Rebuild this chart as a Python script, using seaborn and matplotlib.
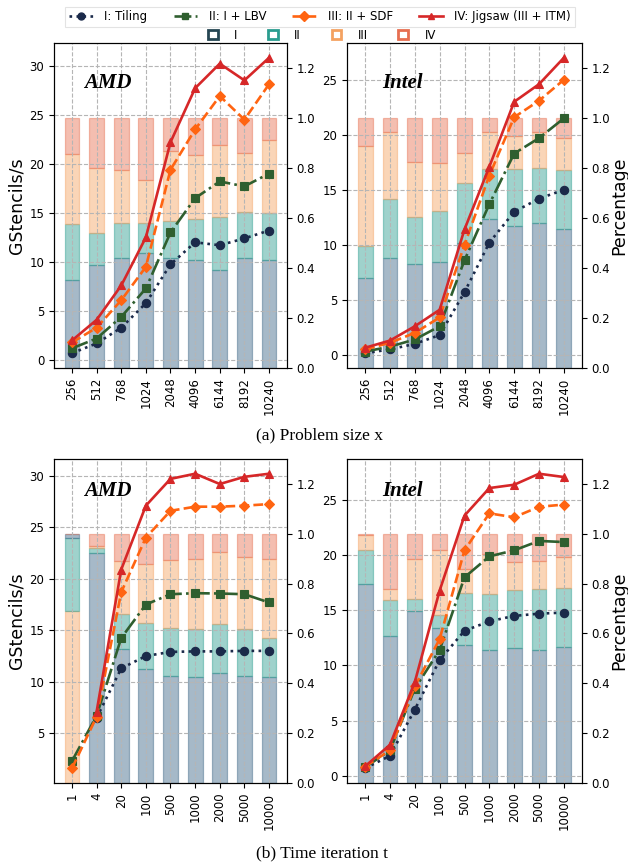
import numpy as np
import pandas as pd
import matplotlib
matplotlib.use("Agg")
import matplotlib.pyplot as plt
import seaborn as sns
from matplotlib.patches import Patch
from matplotlib.lines import Line2D

nan = np.nan

# ---------------- categories ----------------
sizes = ["256", "512", "768", "1024", "2048", "4096", "6144", "8192", "10240"]
iters = ["1", "4", "20", "100", "500", "1000", "2000", "5000", "10000"]

series_names = ["I: Tiling", "II: I + LBV", "III: II + SDF", "IV: Jigsaw (III + ITM)"]
stage_names = ["I", "II", "III", "IV"]

# ---------------- (a) problem size, AMD ----------------
amd_x_tiling = [0.7, 1.7, 3.3, 5.8, 9.75, 12.0, 11.7, 12.4, 13.2]
amd_x_lbv = [1.2, 2.2, 4.4, 7.3, 13.0, 16.5, 18.2, 17.7, 19.0]
amd_x_sdf = [1.8, 3.3, 6.1, 9.5, 19.4, 23.5, 26.9, 24.5, 28.1]
amd_x_jig = [2.0, 4.1, 7.6, 12.5, 22.2, 27.7, 30.2, 28.5, 30.8]
amd_x_p1 = [0.354, 0.413, 0.441, 0.459, 0.441, 0.434, 0.392, 0.439, 0.432]
amd_x_p2 = [0.224, 0.126, 0.139, 0.123, 0.147, 0.161, 0.212, 0.185, 0.187]
amd_x_p3 = [0.278, 0.263, 0.213, 0.171, 0.281, 0.257, 0.288, 0.236, 0.294]
amd_x_p4 = [0.144, 0.198, 0.207, 0.247, 0.131, 0.148, 0.108, 0.140, 0.087]

# ---------------- (a) problem size, Intel ----------------
intel_x_tiling = [0.15, 0.5, 1.0, 1.8, 5.7, 10.2, 13.0, 14.2, 15.0]
intel_x_lbv = [0.3, 0.75, 1.4, 2.6, 8.6, 13.7, 18.3, 19.7, 21.5]
intel_x_sdf = [0.5, 1.1, 2.0, 3.4, 10.0, 16.3, 21.6, 23.1, 25.0]
intel_x_jig = [0.65, 1.3, 2.6, 4.1, 11.4, 17.1, 23.0, 24.6, 27.0]
intel_x_p1 = [0.361, 0.441, 0.417, 0.425, 0.499, 0.595, 0.568, 0.579, 0.555]
intel_x_p2 = [0.127, 0.234, 0.187, 0.203, 0.243, 0.203, 0.230, 0.223, 0.238]
intel_x_p3 = [0.401, 0.268, 0.221, 0.194, 0.118, 0.147, 0.132, 0.143, 0.129]
intel_x_p4 = [0.111, 0.057, 0.175, 0.178, 0.140, 0.055, 0.070, 0.055, 0.078]

# ---------------- (b) time iteration, AMD ----------------
amd_t_tiling = [nan, 6.5, 11.3, 12.5, 12.9, 12.95, 12.95, 13.0, 13.0]
amd_t_lbv = [2.3, 6.7, 14.25, 17.5, 18.5, 18.6, 18.57, 18.5, 17.7]
amd_t_sdf = [1.6, 6.6, 18.7, 24.0, 26.6, 27.0, 27.0, 27.1, 27.25]
amd_t_jig = [nan, 7.1, 20.9, 27.1, 29.7, 30.2, 29.2, 29.9, 30.2]
amd_t_p1 = [0.015, 0.921, 0.538, 0.458, 0.430, 0.427, 0.441, 0.431, 0.427]
amd_t_p2 = [0.295, 0.020, 0.142, 0.184, 0.190, 0.189, 0.195, 0.185, 0.155]
amd_t_p3 = [0.690, 0.008, 0.211, 0.238, 0.275, 0.282, 0.289, 0.291, 0.316]
amd_t_p4 = [0.000, 0.051, 0.109, 0.120, 0.105, 0.102, 0.075, 0.093, 0.102]
# stacking order (bottom -> top) of the first AMD bar in (b)
amd_t_first_order = ["III", "II", "I", "IV"]

# ---------------- (b) time iteration, Intel ----------------
intel_t_tiling = [0.67, 1.8, 6.0, 10.5, 13.15, 14.0, 14.5, 14.7, 14.8]
intel_t_lbv = [0.76, 2.3, 7.9, 11.4, 18.0, 19.9, 20.45, 21.3, 21.2]
intel_t_sdf = [0.82, 2.3, 8.1, 12.4, 20.45, 23.8, 23.45, 24.4, 24.6]
intel_t_jig = [0.85, 2.8, 8.5, 16.8, 23.6, 26.1, 26.4, 27.4, 27.1]
intel_t_p1 = [0.800, 0.589, 0.692, 0.622, 0.555, 0.535, 0.542, 0.535, 0.544]
intel_t_p2 = [0.135, 0.145, 0.047, 0.054, 0.206, 0.224, 0.232, 0.242, 0.237]
intel_t_p3 = [0.060, 0.046, 0.161, 0.259, 0.099, 0.159, 0.113, 0.114, 0.124]
intel_t_p4 = [0.005, 0.220, 0.100, 0.065, 0.140, 0.082, 0.113, 0.109, 0.095]

# ---------------- styles ----------------
line_colors = ["#1b2a4a", "#2f5f2f", "#ff6411", "#d62728"]
line_styles = [":", "-.", "--", "-"]
line_markers = ["o", "s", "D", "^"]
bar_colors = ["#3b6585", "#2a9d8f", "#f4a261", "#e76f51"]
legend_edge = ["#264653", "#2a9d8f", "#f4a261", "#e76f51"]
BAR_ALPHA = 0.45

W, H = 628, 866
fig = plt.figure(figsize=(W / 100, H / 100), dpi=100)


def px_axes(l, t, r, b):
    return fig.add_axes([l / W, 1 - b / H, (r - l) / W, (b - t) / H])


panels = [
    dict(rect=(54, 43, 287, 368), cats=sizes, name="AMD",
         lines=[amd_x_tiling, amd_x_lbv, amd_x_sdf, amd_x_jig],
         shares=[amd_x_p1, amd_x_p2, amd_x_p3, amd_x_p4], orders={}, left=True, ty=0.877),
    dict(rect=(347, 43, 582, 368), cats=sizes, name="Intel",
         lines=[intel_x_tiling, intel_x_lbv, intel_x_sdf, intel_x_jig],
         shares=[intel_x_p1, intel_x_p2, intel_x_p3, intel_x_p4], orders={}, left=False, ty=0.877),
    dict(rect=(54, 459, 287, 783), cats=iters, name="AMD",
         lines=[amd_t_tiling, amd_t_lbv, amd_t_sdf, amd_t_jig],
         shares=[amd_t_p1, amd_t_p2, amd_t_p3, amd_t_p4], orders={0: amd_t_first_order},
         left=True, ty=0.90),
    dict(rect=(347, 459, 582, 783), cats=iters, name="Intel",
         lines=[intel_t_tiling, intel_t_lbv, intel_t_sdf, intel_t_jig],
         shares=[intel_t_p1, intel_t_p2, intel_t_p3, intel_t_p4], orders={}, left=False, ty=0.90),
]

for p in panels:
    ax = px_axes(*p["rect"])
    axr = ax.twinx()
    pos = np.arange(len(p["cats"]))

    # stacked percentage bars on the right axis
    share_df = pd.DataFrame(dict(zip(stage_names, p["shares"])), index=pos)
    for i in pos:
        order = p["orders"].get(i, stage_names)
        bottom = 0.0
        for st in order:
            k = stage_names.index(st)
            v = share_df.loc[i, st]
            axr.bar(i, v, bottom=bottom, width=0.6,
                    color=bar_colors[k], edgecolor=bar_colors[k],
                    alpha=BAR_ALPHA, linewidth=0.9)
            bottom += v
    axr.set_ylim(0, 1.3)
    axr.set_yticks([0.0, 0.2, 0.4, 0.6, 0.8, 1.0, 1.2])

    # performance lines on the left axis
    for k, vals in enumerate(p["lines"]):
        d = pd.DataFrame({"x": pos, "y": vals}).dropna()
        sns.lineplot(data=d, x="x", y="y", ax=ax, color=line_colors[k],
                     linestyle=line_styles[k], marker=line_markers[k],
                     markersize=6 if line_markers[k] != "D" else 5.5,
                     markeredgewidth=0.8, markeredgecolor=line_colors[k],
                     linewidth=1.9, zorder=3)

    ax.set_zorder(axr.get_zorder() + 1)
    ax.patch.set_visible(False)
    ax.set_xticks(pos)
    ax.set_xticklabels(p["cats"], rotation=90)
    ax.set_xlabel("")
    ax.set_ylabel("GStencils/s" if p["left"] else "", fontsize=12.5, labelpad=3)
    if not p["left"]:
        axr.set_ylabel("Percentage", fontsize=12.5, labelpad=0)
    ax.grid(True, linestyle="--", color="#b5b5b5", linewidth=0.8)
    ax.tick_params(labelsize=8.5)
    axr.tick_params(labelsize=8.5)
    ax.text(0.13 if p["name"] == "AMD" else 0.15, p["ty"], p["name"],
            transform=ax.transAxes, fontsize=15, fontweight="bold",
            fontstyle="italic", family="Liberation Serif", va="center")

fig.text(320 / W, 1 - 435 / H, "(a) Problem size x", ha="center", va="center",
         fontsize=12.5, family="Liberation Serif")
fig.text(322 / W, 1 - 853 / H, "(b) Time iteration t", ha="center", va="center",
         fontsize=12.5, family="Liberation Serif")

line_handles = [Line2D([], [], color=line_colors[k], linestyle=line_styles[k],
                       marker=line_markers[k], markersize=5, linewidth=1.9)
                for k in range(4)]
leg1 = fig.legend(line_handles, series_names, loc="upper center",
                  bbox_to_anchor=(320 / W, 1 - 1 / H), ncol=4, fontsize=8.5,
                  frameon=True, edgecolor="#dddddd", fancybox=False,
                  handlelength=2.0, columnspacing=2.2, borderpad=0.3,
                  handletextpad=1.0)
leg1.get_frame().set_linewidth(0.8)

patch_handles = [Patch(facecolor="white", edgecolor=legend_edge[k], linewidth=2)
                 for k in range(4)]
fig.legend(patch_handles, stage_names, loc="upper center",
           bbox_to_anchor=(322 / W, 1 - 22 / H), ncol=4, fontsize=8.5,
           frameon=False, handlelength=0.8, handleheight=0.8,
           columnspacing=2.6, handletextpad=1.4, borderpad=0.1)

fig.savefig("out.png", dpi=100)
